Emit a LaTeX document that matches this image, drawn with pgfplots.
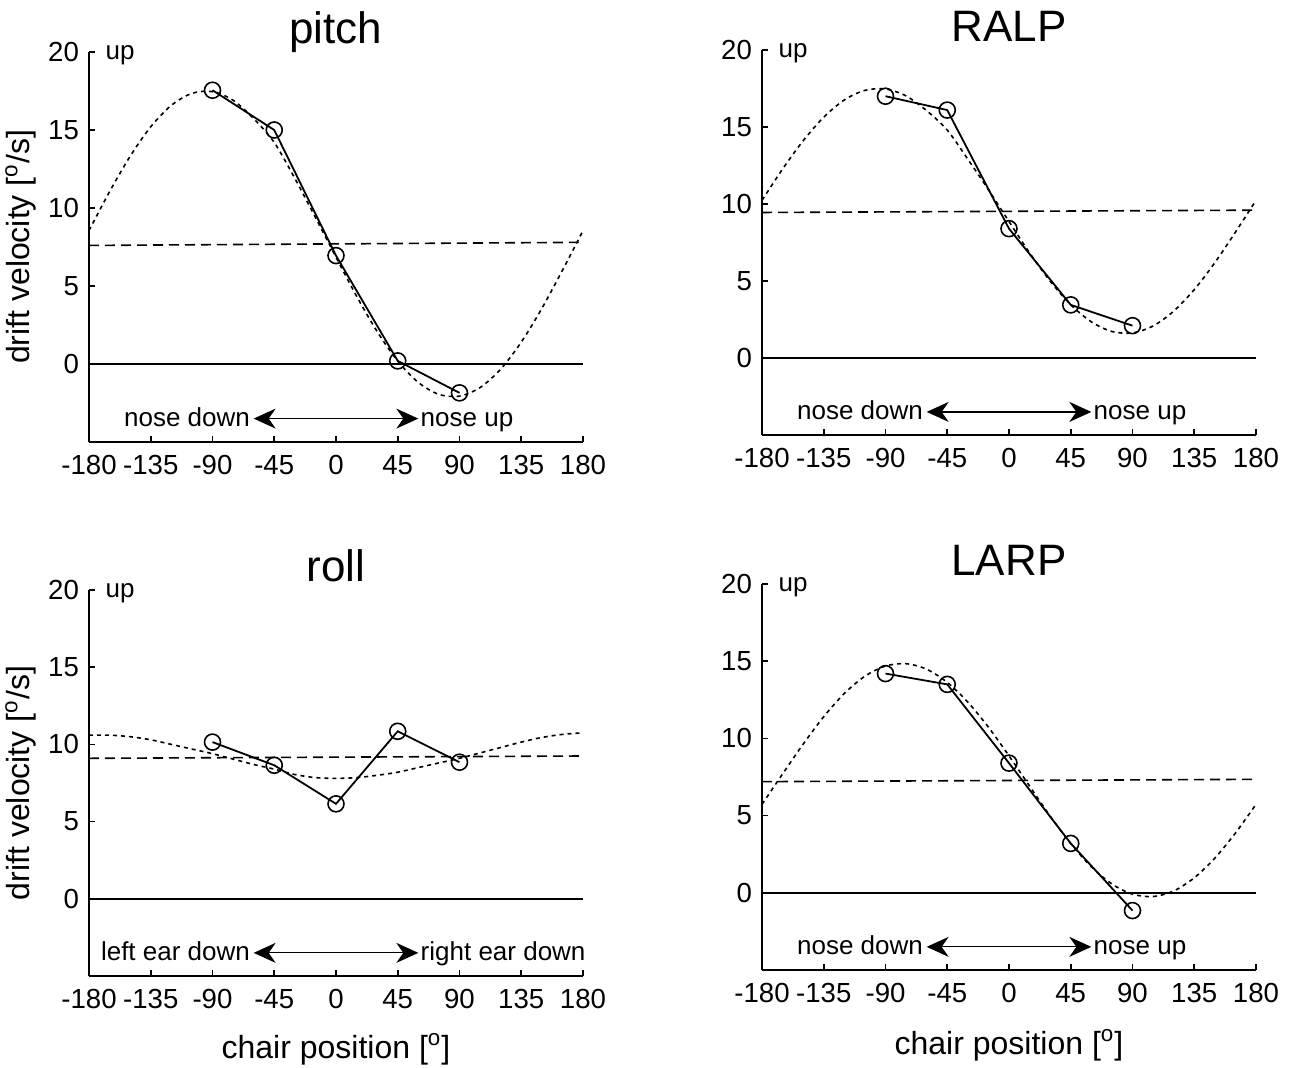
\documentclass[border=0pt]{standalone}
\usepackage{fontspec}
\setmainfont{Liberation Sans}
\usepackage{pgfplots}
\pgfplotsset{compat=1.18}
\usetikzlibrary{arrows.meta}

\tikzset{
  ann/.style={font=\fontsize{13}{15}\selectfont},
  arr/.style={{Stealth[length=11pt,width=10pt,inset=3.5pt]}-{Stealth[length=11pt,width=10pt,inset=3.5pt]}, line width=0.6pt},
}
\pgfplotsset{
  every axis title shift=0pt,
  drift/.style={
    width=247pt, height=193pt, scale only axis,
    xmin=-180, xmax=180, ymin=-5, ymax=20,
    axis x line*=bottom, axis y line*=left,
    xtick={-180,-135,-90,-45,0,45,90,135,180}, ytick={0,5,10,15,20},
    xticklabels={-180,-135,-90,-45,0,45,90,135,180},
    tick align=inside, major tick length=3pt,
    tick label style={font=\fontsize{13.8}{16}\selectfont},
    xticklabel style={yshift=-3pt},
    yticklabel style={xshift=-1.5pt},
    /pgf/number format/assume math mode=true,
    axis line style={line width=1pt},
    tick style={line width=0.8pt, black},
    title style={at={(axis description cs:0.5,1)}, anchor=base, yshift=4.5pt, font=\fontsize{22}{24}\selectfont},
    label style={font=\fontsize{16}{18}\selectfont},
    ylabel style={at={(axis description cs:-0.138,0.5)}, anchor=center},
    xlabel style={at={(axis description cs:0.5,-0.19)}, anchor=center},
    clip=false,
  },
  fit/.style={line width=0.8pt, dash pattern=on 2pt off 2pt},
  mean/.style={line width=0.8pt, dash pattern=on 5pt off 3pt},
  zero/.style={line width=0.9pt},
  data/.style={line width=0.9pt, mark=o, mark size=4pt, mark options={solid, fill=white, line width=0.8pt}},
}

\begin{document}
\begin{tikzpicture}
\useasboundingbox (0,0) rectangle (645.5pt,-533.5pt);

% ---------- pitch ----------
\begin{axis}[drift, height=195pt, at={(44.5pt,-221pt)}, anchor=south west,
  title={pitch}, ylabel={drift velocity [\textsuperscript{o}/s]}]
\addplot[fit, smooth] coordinates {
(-180,8.55)(-165,11.05)(-150,13.32)(-135,15.21)(-120,16.58)(-105,17.35)(-90,17.46)
(-75,16.91)(-60,15.73)(-45,14.2)(-30,11.9)(-15,9.4)(0,6.85)(15,4.35)(30,2.08)
(45,0.19)(60,-1.18)(75,-1.95)(90,-2.06)(105,-1.51)(120,-0.33)(135,1.40)(150,3.56)
(165,6.00)(180,8.55)};
\addplot[mean] coordinates {(-180,7.6)(180,7.8)};
\addplot[zero] coordinates {(-180,0)(180,0)};
\addplot[data] coordinates {(-90,17.55)(-45,15.0)(0,6.95)(45,0.2)(90,-1.85)};
\node[ann, anchor=base west] at (axis cs:-173,19.5) {up};
\draw[arr] (axis cs:-60,-3.5) -- (axis cs:60,-3.5);
\node[ann, anchor=base east, inner sep=1pt] at (axis cs:-61,-4.0) {nose down};
\node[ann, anchor=base west, inner sep=1pt] at (axis cs:60,-4.0) {nose up};
\end{axis}

% ---------- RALP ----------
\begin{axis}[drift, height=192.5pt, at={(381pt,-217.5pt)}, anchor=south west,
  title={RALP}]
\addplot[fit, smooth] coordinates {
(-180,10.24)(-165,12.27)(-150,14.11)(-135,15.64)(-120,16.76)(-105,17.38)(-90,17.47)
(-75,17.02)(-60,16.06)(-45,14.8)(-30,12.91)(-15,10.93)(0,8.86)(15,6.83)(30,4.99)
(45,3.46)(60,2.35)(75,1.72)(90,1.63)(105,2.08)(120,3.04)(135,4.44)(150,6.19)
(165,8.17)(180,10.24)};
\addplot[mean] coordinates {(-180,9.45)(180,9.6)};
\addplot[zero] coordinates {(-180,0)(180,0)};
\addplot[data] coordinates {(-90,17.0)(-45,16.1)(0,8.4)(45,3.45)(90,2.1)};
\node[ann, anchor=base west] at (axis cs:-173,19.5) {up};
\draw[arr] (axis cs:-60,-3.5) -- (axis cs:60,-3.5);
\node[ann, anchor=base east, inner sep=1pt] at (axis cs:-61,-4.0) {nose down};
\node[ann, anchor=base west, inner sep=1pt] at (axis cs:60,-4.0) {nose up};
\end{axis}

% ---------- roll ----------
\begin{axis}[drift, height=193pt, at={(44.5pt,-488pt)}, anchor=south west,
  title={roll}, ylabel={drift velocity [\textsuperscript{o}/s]},
  xlabel={chair position [\textsuperscript{o}]}]
\addplot[fit, smooth] coordinates {
(-180,10.6)(-165,10.6)(-150,10.5)(-135,10.3)(-120,10.0)(-105,9.7)(-90,9.4)
(-75,9.05)(-60,8.7)(-45,8.4)(-30,8.05)(-15,7.85)(0,7.8)(15,7.85)(30,8.0)
(45,8.2)(60,8.5)(75,8.8)(90,9.1)(105,9.45)(120,9.8)(135,10.15)(150,10.45)
(165,10.65)(180,10.75)};
\addplot[mean] coordinates {(-180,9.1)(180,9.25)};
\addplot[zero] coordinates {(-180,0)(180,0)};
\addplot[data] coordinates {(-90,10.15)(-45,8.65)(0,6.15)(45,10.85)(90,8.85)};
\node[ann, anchor=base west] at (axis cs:-173,19.5) {up};
\draw[arr] (axis cs:-60,-3.5) -- (axis cs:60,-3.5);
\node[ann, anchor=base east, inner sep=1pt] at (axis cs:-61,-4.0) {left ear down};
\node[ann, anchor=base west, inner sep=1pt] at (axis cs:60,-4.0) {right ear down};
\end{axis}

% ---------- LARP ----------
\begin{axis}[drift, height=193pt, at={(381pt,-485pt)}, anchor=south west,
  title={LARP}, xlabel={chair position [\textsuperscript{o}]},
  xlabel style={at={(axis description cs:0.5,-0.195)}}]
\addplot[fit, smooth] coordinates {
(-180,5.73)(-165,7.70)(-150,9.63)(-135,11.41)(-120,12.91)(-105,14.03)(-90,14.69)
(-75,14.84)(-60,14.48)(-45,13.63)(-30,12.35)(-15,10.73)(0,8.87)(15,6.91)(30,4.97)
(45,3.19)(60,1.69)(75,0.57)(90,-0.09)(105,-0.24)(120,0.12)(135,0.97)(150,2.25)
(165,3.87)(180,5.73)};
\addplot[mean] coordinates {(-180,7.2)(180,7.35)};
\addplot[zero] coordinates {(-180,0)(180,0)};
\addplot[data] coordinates {(-90,14.2)(-45,13.5)(0,8.4)(45,3.2)(90,-1.15)};
\node[ann, anchor=base west] at (axis cs:-173,19.5) {up};
\draw[arr] (axis cs:-60,-3.5) -- (axis cs:60,-3.5);
\node[ann, anchor=base east, inner sep=1pt] at (axis cs:-61,-4.0) {nose down};
\node[ann, anchor=base west, inner sep=1pt] at (axis cs:60,-4.0) {nose up};
\end{axis}
\end{tikzpicture}
\end{document}
